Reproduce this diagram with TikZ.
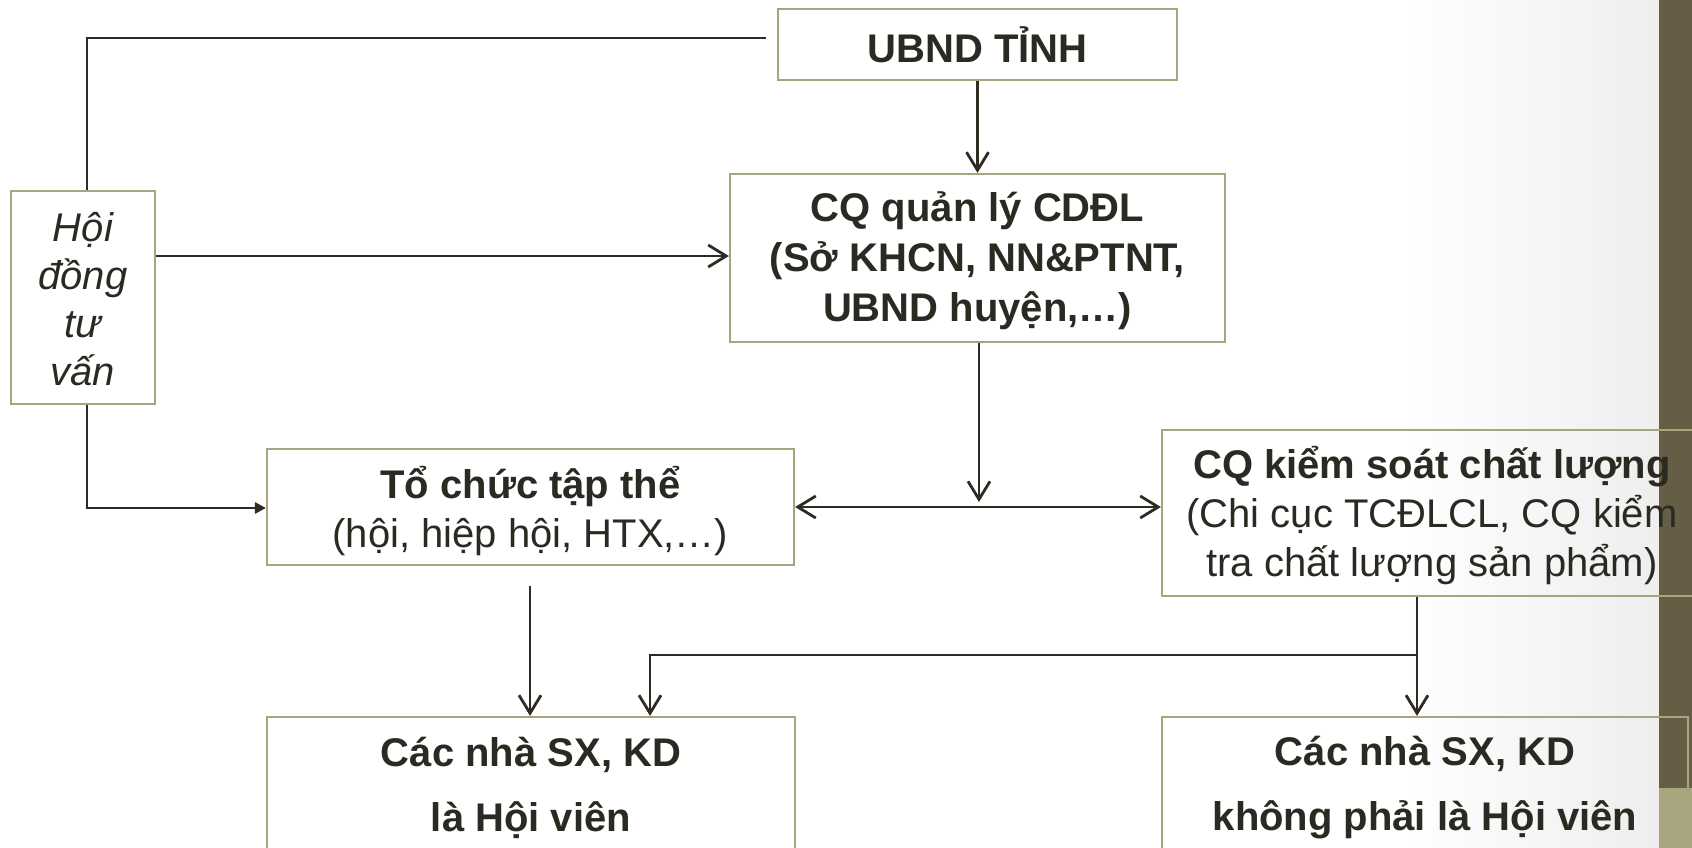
\documentclass[tikz,border=0pt]{standalone}
\usepackage{fontspec}
\setmainfont{Liberation Sans}
\usetikzlibrary{arrows.meta}
\definecolor{boxc}{HTML}{A8A47E}
\definecolor{linec}{HTML}{2E2B22}
\definecolor{txtc}{HTML}{2B2A22}
\definecolor{barc}{HTML}{655D46}
\definecolor{barl}{HTML}{A9A57F}
\definecolor{bgr}{HTML}{EEEEEE}
\newcommand\tup[2]{\raisebox{0pt}[\dimexpr\height+#1\relax][\depth]{#2}}
\begin{document}
\begin{tikzpicture}[x=1pt,y=-1pt,
  box/.style={draw=boxc, line width=2.2pt, text=txtc, align=center, inner sep=0pt,
    font=\fontsize{40}{49}\selectfont},
  conn/.style={draw=linec, line width=2.8pt},
  arr/.style={conn, -{Straight Barb[length=18pt,width=22pt,line width=2.8pt]}},
  darr/.style={conn, {Straight Barb[length=18pt,width=22pt,line width=2.8pt]}-{Straight Barb[length=18pt,width=22pt,line width=2.8pt]}},
  farr/.style={conn, -{Triangle[length=11pt,width=11pt]}}]
\useasboundingbox (0,0) rectangle (1692,848);
\clip (0,0) rectangle (1692,848);
% background
\fill[white] (0,0) rectangle (1400,848);
\shade[left color=white, right color=bgr] (1400,0) rectangle (1660,848);
\fill[barc] (1659,0) rectangle (1692,788);
\fill[barl] (1659,788) rectangle (1692,848);
% nodes
\node[box, minimum width=399pt, minimum height=71pt, font=\fontsize{40}{48}\selectfont\bfseries] (ubnd) at (977.5,44.5) {UBND TỈNH};
\node[box, minimum width=495pt, minimum height=168pt, font=\fontsize{40}{50}\selectfont\bfseries] (qly) at (977.5,258) {\tup{6pt}{CQ quản lý CDĐL}\\(Sở KHCN, NN\&PTNT,\\UBND huyện,…)};
\node[box, minimum width=144pt, minimum height=213pt, font=\fontsize{40}{48}\selectfont\itshape] (hd) at (83,297.5) {\tup{4pt}{Hội}\\đồng\\tư\\vấn};
\node[box, minimum width=527pt, minimum height=116pt] (tc) at (530.5,507) {\tup{8pt}{\textbf{Tổ chức tập thể}}\\(hội, hiệp hội, HTX,…)};
\node[box, minimum width=540pt, minimum height=166pt] (ks) at (1432,513) {\tup{6pt}{\textbf{CQ kiểm soát chất lượng}}\\(Chi cục TCĐLCL, CQ kiểm\\tra chất lượng sản phẩm)};
\node[box, minimum width=528pt, minimum height=135pt, font=\fontsize{40}{65}\selectfont\bfseries] (hv) at (531,784.5) {\tup{6pt}{Các nhà SX, KD}\\là Hội viên};
\node[box, minimum width=526pt, minimum height=135pt, font=\fontsize{40}{65}\selectfont\bfseries] (khv) at (1425,784.5) {\tup{6pt}{Các nhà SX, KD}\\không phải là Hội viên};
% helper coordinates
\coordinate (c1) at (766,38);
\coordinate (h1) at (87,38);
\coordinate (h2) at (87,508);
\coordinate (y1) at (0,256);
\coordinate (c2) at (530,586);
\coordinate (j1) at (979,507);
\coordinate (j2) at (979,502);
\coordinate (b1) at (1417,655);
\coordinate (b2) at (650,655);
% connectors
\draw[conn] (c1) -- (h1) -- (h1 |- hd.north);
\draw[arr] (ubnd.south) -- (qly.north);
\draw[arr] (hd.east |- y1) -- (qly.west |- y1);
\draw[arr] (qly.south -| j1) -- (j2);
\draw[darr] (tc.east |- j1) -- (ks.west |- j1);
\draw[farr] (hd.south -| h2) -- (h2) -- (tc.west |- h2);
\draw[arr] (c2) -- (c2 |- hv.north);
\draw[arr] (ks.south -| b1) -- (b1 |- khv.north);
\draw[arr] (b1) -- (b2) -- (b2 |- hv.north);
\end{tikzpicture}
\end{document}
